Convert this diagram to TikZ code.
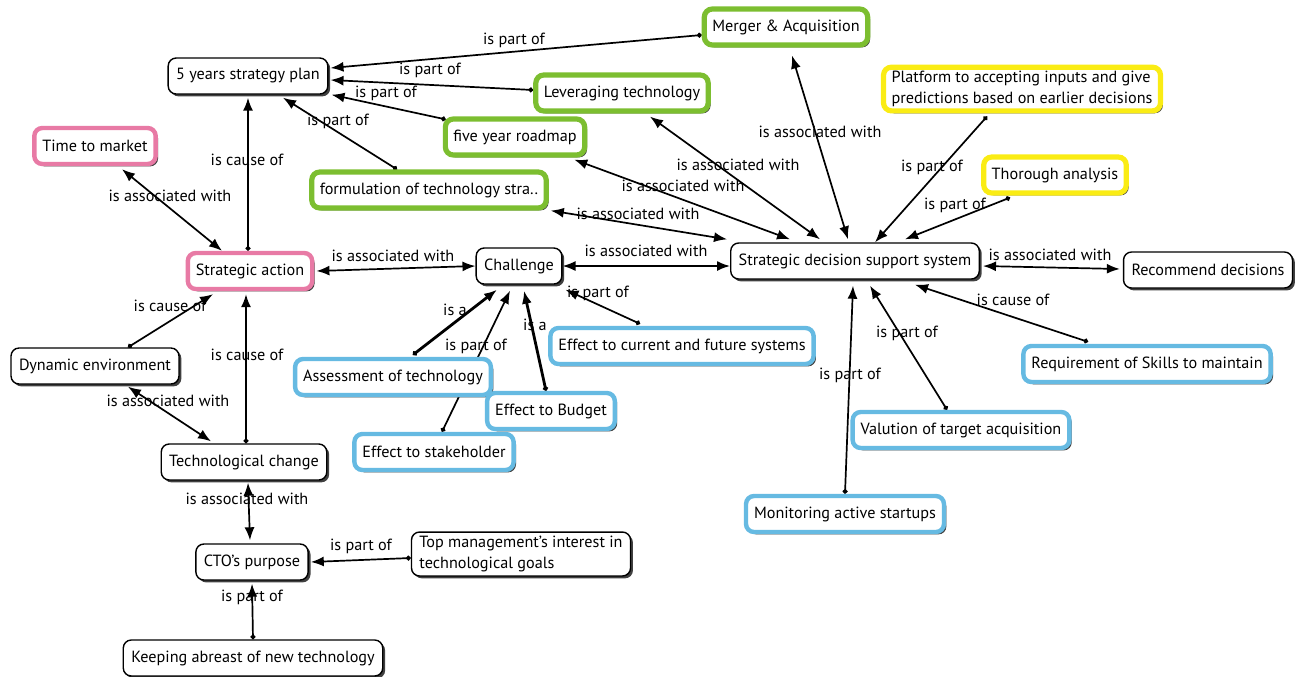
\documentclass[tikz,border=0pt]{standalone}
\usepackage{fontspec}
\setmainfont{PT Sans}
\usetikzlibrary{arrows.meta,shadows,calc}
\pgfdeclarelayer{bg}
\pgfsetlayers{bg,main}
\definecolor{cgreen}{RGB}{124,190,48}
\definecolor{cyellow}{RGB}{250,236,20}
\definecolor{cpink}{RGB}{232,122,165}
\definecolor{cblue}{RGB}{102,186,226}
\tikzset{
  box/.style={rounded corners=4pt, fill=white, draw=black, line width=0.7pt,
    inner xsep=4pt, inner ysep=2pt, minimum height=18pt,
    font=\fontsize{8.1}{10.5}\selectfont,
    drop shadow={shadow xshift=1.2pt, shadow yshift=-1.2pt, fill=black!75, opacity=1}},
  gbox/.style={box, draw=cgreen, line width=2.6pt},
  ybox/.style={box, draw=cyellow, line width=2.6pt},
  pbox/.style={box, draw=cpink, line width=2.2pt},
  bbox/.style={box, draw=cblue, line width=2.2pt},
  lbl/.style={font=\fontsize{8.1}{10}\selectfont, inner sep=0pt},
  uni/.style={line width=0.85pt, {Circle[length=2.4pt]}-{Latex[length=6.5pt,width=5pt]}},
  bi/.style={line width=0.85pt, {Latex[length=6.5pt,width=5pt]}-{Latex[length=6.5pt,width=5pt]}},
}
\begin{document}
\begin{tikzpicture}[x=0.5pt,y=-0.5pt]
\useasboundingbox (0,0) rectangle (1301,676);
% nodes
\node[box] (plan) at (248,76) {5 years strategy plan};
\node[gbox] (merger) at (786,27) {Merger \& Acquisition};
\node[gbox] (lever) at (622,93) {Leveraging technology};
\node[gbox] (road) at (515,137) {five year roadmap};
\node[gbox] (form) at (429,190) {formulation of technology stra..};
\node[ybox, align=left] (plat) at (1022,89) {Platform to accepting inputs and give\\predictions based on earlier decisions};
\node[ybox] (thor) at (1055,175) {Thorough analysis};
\node[pbox] (time) at (95,146) {Time to market};
\node[pbox] (sa) at (250,271) {Strategic action};
\node[box] (chal) at (519,266) {Challenge};
\node[box] (sdss) at (855,261) {Strategic decision support system};
\node[box] (rec) at (1208,270) {Recommend decisions};
\node[box] (dyn) at (95,366) {Dynamic environment};
\node[bbox] (assess) at (393,377) {Assessment of technology};
\node[bbox] (cur) at (682,346) {Effect to current and future systems};
\node[bbox] (bud) at (551,411) {Effect to Budget};
\node[bbox] (stake) at (434,452) {Effect to stakeholder};
\node[bbox] (req) at (1147,364) {Requirement of Skills to maintain};
\node[bbox] (val) at (961,430) {Valution of target acquisition};
\node[bbox] (mon) at (845,514) {Monitoring active startups};
\node[box] (tc) at (244,462) {Technological change};
\node[box] (cto) at (252,562) {CTO's purpose};
\node[box, align=left] (top) at (521,554) {Top management's interest in\\technological goals};
\node[box] (keep) at (253,658) {Keeping abreast of new technology};
% connectors
\begin{pgfonlayer}{bg}
\draw[uni] ($(merger.west)+(0,8)$) -- ($(plan.east)+(2,-8)$) node[lbl] at (514,40) {is part of};
\draw[uni] ($(lever.west)+(0,-3)$) -- ($(plan.east)+(2,4)$) node[lbl] at (430,70) {is part of};
\draw[uni] ($(road.north west)+(3,3)$) -- ($(plan.south east)+(3,0)$) node[lbl] at (386,93) {is part of};
\draw[uni] ($(form.north)+(-32,0)$) -- ($(plan.south)+(35,3)$) node[lbl] at (338,121) {is part of};
\draw[uni] ($(sa.north)+(-2,0)$) -- ($(sa.north|-plan.south)+(-2,3)$) node[lbl] at (247,160) {is cause of};
\draw[bi] ($(sa.north)+(-28,0)$) -- ($(time.south)+(27,3)$) node[lbl] at (170,196) {is associated with};
\draw[bi] (chal.west) -- ($(sa.east)+(2,0)$) node[lbl] at (393,256) {is associated with};
\draw[uni] ($(dyn.north)+(33,0)$) -- ($(sa.south)+(-37,3)$) node[lbl] at (170,306) {is cause of};
\draw[uni] ($(tc.north)+(2,0)$) -- ($(sa.south)+(-4,3)$) node[lbl] at (247,355) {is cause of};
\draw[bi] ($(dyn.south)+(33,2)$) -- ($(tc.north)+(-33,-2)$) node[lbl] at (168,401) {is associated with};
\draw[bi] ($(tc.south)+(4,2)$) -- ($(cto.north)+(-2,-3)$) node[lbl] at (247,499) {is associated with};
\draw[uni] ($(top.west)+(0,4)$) -- ($(cto.east)+(2,0)$) node[lbl] at (361,546) {is part of};
\draw[uni] (keep.north) -- ($(cto.south)+(0,3)$) node[lbl] at (252,597) {is part of};
\draw[uni, line width=1.4pt] ($(assess.north)+(20,-2)$) -- ($(chal.south)+(-22,5)$) node[lbl] at (455,310) {is a};
\draw[uni] ($(stake.north)+(8,0)$) -- ($(chal.south)+(-9,6)$) node[lbl] at (476,346) {is part of};
\draw[uni, line width=1.4pt] ($(bud.north)+(-5,0)$) -- ($(chal.south)+(5,6)$) node[lbl] at (535,325) {is a};
\draw[uni] ($(cur.north)+(-42,-2)$) -- ($(chal.south east)+(3,5)$) node[lbl] at (598,293) {is part of};
\draw[bi] (chal.east) -- (sdss.west|-chal.east) node[lbl] at (646,251) {is associated with};
\draw[bi] ($(form.south east)+(2,0)$) -- ($(sdss.north west)+(-3,-3)$) node[lbl] at (638,214) {is associated with};
\draw[bi] ($(road.south east)+(-13,2)$) -- ($(sdss.north)+(-65,-3)$) node[lbl] at (683,186) {is associated with};
\draw[bi] ($(lever.south)+(28,3)$) -- ($(sdss.north)+(-35,-3)$) node[lbl] at (738,165) {is associated with};
\draw[bi] ($(merger.south)+(6,8)$) -- ($(sdss.north)+(-7,-3)$) node[lbl] at (820,132) {is associated with};
\draw[uni] ($(plat.south)+(-35,3)$) -- ($(sdss.north)+(20,0)$) node[lbl] at (932,167) {is part of};
\draw[uni] ($(thor.south)+(-45,2)$) -- ($(sdss.north)+(50,-3)$) node[lbl] at (955,205) {is part of};
\draw[bi] ($(sdss.east)+(3,5)$) -- ($(rec.west)+(-3,-1)$) node[lbl] at (1050,255) {is associated with};
\draw[uni] ($(req.north)+(-59,-2)$) -- ($(sdss.south)+(60,5)$) node[lbl] at (1013,300) {is cause of};
\draw[uni] ($(val.north)+(-14,0)$) -- ($(sdss.south)+(15,6)$) node[lbl] at (907,333) {is part of};
\draw[uni] (mon.north) -- ($(sdss.south)+(-2,6)$) node[lbl] at (850,375) {is part of};
\end{pgfonlayer}
\end{tikzpicture}
\end{document}
